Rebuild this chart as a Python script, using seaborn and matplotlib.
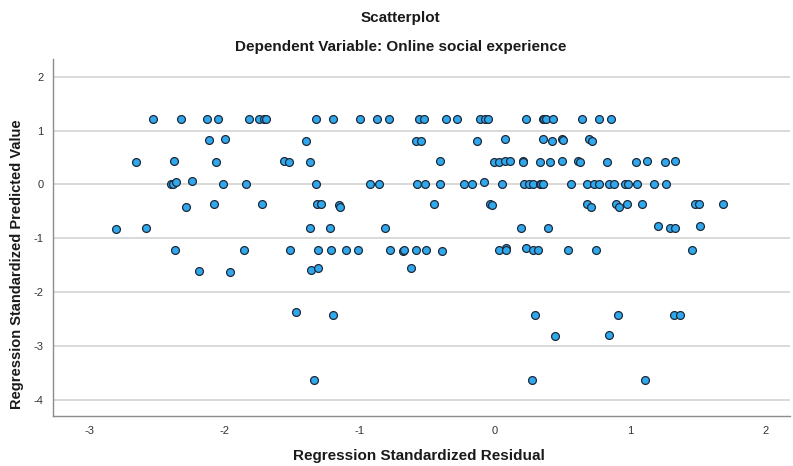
import matplotlib
matplotlib.use("Agg")
import matplotlib.pyplot as plt
import seaborn as sns
import pandas as pd

# Regression standardized residuals (x) and predicted values (y)
resid = [
    # row ~1.22
    -2.528, -2.323, -2.129, -2.052, -1.820, -1.746, -1.707, -1.695,
    -1.323, -1.202, -0.996, -0.874, -0.786, -0.567, -0.523, -0.367, -0.279,
    -0.111, -0.072, -0.054, 0.229, 0.350, 0.364, 0.375, 0.431, 0.643, 0.769, 0.855,
    # row ~0.82
    -2.114, -1.996, -1.399, -0.584, -0.545, -0.135, 0.074, 0.357, 0.419, 0.493,
    0.500, 0.693, 0.715,
    # row ~0.42
    -2.656, -2.373, -2.067, -1.562, -1.528, -1.372, -0.409, -0.010, 0.025, 0.074,
    0.111, 0.207, 0.209, 0.335, 0.409, 0.493, 0.611, 0.628, 0.830, 1.040, 1.121,
    1.254, 1.328,
    # row ~0
    -2.395, -2.385, -2.360, -2.239, -2.015, -1.840, -1.323, -0.922, -0.860, -0.576,
    -0.520, -0.411, -0.229, -0.170, -0.086, 0.054, 0.212, 0.249, 0.276, 0.328,
    0.340, 0.350, 0.562, 0.682, 0.734, 0.769, 0.840, 0.880, 0.963, 0.981, 1.052,
    1.177, 1.262,
    # row ~-0.4
    -2.286, -2.082, -1.724, -1.321, -1.288, -1.155, -1.148, -0.456, -0.035, -0.027,
    0.678, 0.705, 0.897, 0.917, 0.973, 1.086, 1.476, 1.506, 1.688,
    # row ~-0.8
    -2.803, -2.584, -1.372, -1.222, -0.815, 0.192, 0.394, 1.202, 1.291, 1.328, 1.515,
    # row ~-1.22
    -2.365, -1.860, -1.515, -1.311, -1.215, -1.106, -1.018, -0.781, -0.685, -0.673,
    -0.584, -0.515, -0.390, 0.030, 0.079, 0.081, 0.231, 0.283, 0.318, 0.537, 0.746,
    1.456,
    # row ~-1.6
    -2.190, -1.960, -1.360, -1.310, -0.625,
    # row ~-2.4
    -1.470, -1.200, 0.298, 0.907, 1.326, 1.363,
    # row ~-2.8
    0.446, 0.838,
    # row ~-3.63
    -1.340, 0.271, 1.107,
]

pred = [
    # row ~1.22
    1.22, 1.22, 1.22, 1.22, 1.22, 1.22, 1.22, 1.22,
    1.22, 1.22, 1.22, 1.22, 1.22, 1.22, 1.22, 1.22, 1.22,
    1.22, 1.22, 1.22, 1.22, 1.22, 1.22, 1.22, 1.22, 1.22, 1.22, 1.22,
    # row ~0.82
    0.83, 0.85, 0.81, 0.80, 0.80, 0.80, 0.84, 0.84, 0.81, 0.84,
    0.82, 0.84, 0.81,
    # row ~0.42
    0.42, 0.44, 0.42, 0.44, 0.41, 0.41, 0.44, 0.41, 0.41, 0.44,
    0.44, 0.44, 0.41, 0.41, 0.41, 0.44, 0.44, 0.42, 0.41, 0.41, 0.44,
    0.41, 0.44,
    # row ~0
    0.00, 0.01, 0.04, 0.06, 0.00, 0.00, 0.00, 0.00, 0.00, 0.00,
    0.00, 0.00, 0.00, 0.00, 0.05, 0.00, 0.00, 0.00, 0.00, 0.00,
    0.00, 0.00, 0.00, 0.00, 0.00, 0.00, 0.00, 0.00, 0.00, 0.00, 0.00,
    0.00, 0.00,
    # row ~-0.4
    -0.41, -0.37, -0.37, -0.37, -0.37, -0.39, -0.41, -0.37, -0.37, -0.39,
    -0.37, -0.41, -0.37, -0.41, -0.37, -0.37, -0.37, -0.37, -0.37,
    # row ~-0.8
    -0.83, -0.80, -0.81, -0.81, -0.81, -0.80, -0.81, -0.77, -0.81, -0.81, -0.78,
    # row ~-1.22
    -1.22, -1.22, -1.22, -1.22, -1.22, -1.22, -1.22, -1.22, -1.24, -1.22,
    -1.22, -1.22, -1.24, -1.22, -1.18, -1.22, -1.18, -1.22, -1.22, -1.22, -1.22,
    -1.22,
    # row ~-1.6
    -1.61, -1.63, -1.59, -1.56, -1.56,
    # row ~-2.4
    -2.37, -2.42, -2.42, -2.42, -2.42, -2.42,
    # row ~-2.8
    -2.81, -2.79,
    # row ~-3.63
    -3.63, -3.63, -3.63,
]

x_ticks = [-3, -2, -1, 0, 1, 2]
y_ticks = [2, 1, 0, -1, -2, -3, -4]

df = pd.DataFrame({"Regression Standardized Residual": resid,
                   "Regression Standardized Predicted Value": pred})

sns.set_theme(style="white")
plt.rcParams['font.family'] = ['Liberation Sans', 'DejaVu Sans']

fig = plt.figure(figsize=(7.93, 4.66), dpi=100)
ax = fig.add_axes([0.0668, 0.1073, 0.9294, 0.7661])

ax.set_axisbelow(True)
for yv in y_ticks:
    ax.axhline(yv, color="#d9d9d9", lw=1.4, zorder=0)

sns.scatterplot(data=df, x="Regression Standardized Residual",
                y="Regression Standardized Predicted Value",
                ax=ax, s=32, color="#30a8ee", edgecolor="#1c2a3a",
                linewidth=0.9, zorder=3)

ax.set_xlim(-3.27, 2.18)
ax.set_ylim(-4.30, 2.33)
ax.set_xticks(x_ticks)
ax.set_yticks(y_ticks)
ax.set_xticklabels([str(v) for v in x_ticks], fontsize=8, color="#333333")
ax.set_yticklabels([str(v) for v in y_ticks], fontsize=8, color="#333333")
ax.tick_params(axis="both", length=0, pad=7)

for side in ["top", "right"]:
    ax.spines[side].set_visible(False)
for side in ["left", "bottom"]:
    ax.spines[side].set_color("#8c8c8c")
    ax.spines[side].set_linewidth(1.0)

ax.set_xlabel("Regression Standardized Residual", fontsize=11,
              fontweight="bold", color="#1a1a1a", va="center")
ax.xaxis.set_label_coords(0.497, -0.112)
ax.set_ylabel("Regression Standardized Predicted Value", fontsize=10.5,
              fontweight="bold", color="#1a1a1a", va="center")
ax.yaxis.set_label_coords(-0.049, 0.426)

fig.text(0.505, 0.962, "Scatterplot", ha="center", va="center",
         fontsize=11, fontweight="bold", color="#1a1a1a")
fig.text(0.505, 0.900, "Dependent Variable: Online social experience",
         ha="center", va="center", fontsize=11, fontweight="bold",
         color="#1a1a1a")

fig.savefig("out.png", dpi=100)
